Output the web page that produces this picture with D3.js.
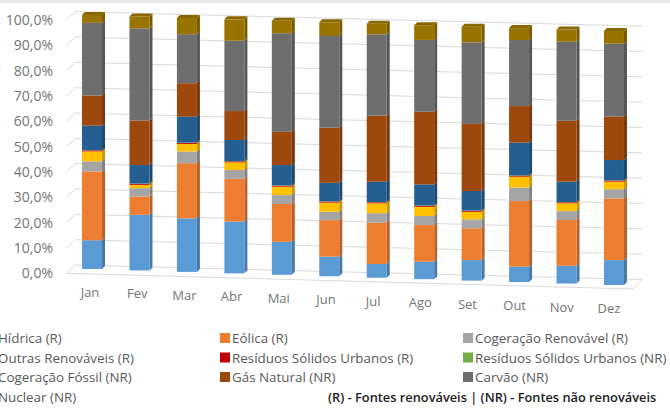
<!DOCTYPE html>
<html>
<head>
<meta charset="utf-8">
<script src="https://cdn.jsdelivr.net/npm/d3@7"></script>
<style>
  html, body { margin: 0; padding: 0; background: #fff; }
  svg { display: block; }
  text { font-family: "Open Sans", Lato, sans-serif; }
</style>
</head>
<body>
<svg id="chart" width="670" height="408"></svg>
<script>
// Months (Portuguese abbreviations)
const months = ["Jan","Fev","Mar","Abr","Mai","Jun","Jul","Ago","Set","Out","Nov","Dez"];

// Series names, stacked bottom to top
const seriesNames = [
  "Hídrica (R)", "Eólica (R)", "Cogeração Renovável (R)", "Outras Renováveis (R)",
  "Resíduos Sólidos Urbanos (R)", "Resíduos Sólidos Urbanos (NR)",
  "Cogeração Fóssil (NR)", "Gás Natural (NR)", "Carvão (NR)", "Nuclear (NR)"
];
const seriesColors = ["#5B9BD5","#ED7D31","#A5A5A5","#FFC000","#C00000","#70AD47",
                      "#255E91","#9E480E","#6E6E6E","#997300"];

// Monthly share of electricity production (%)
const hidrica    = [11.3, 21.9, 21.1, 20.4, 13.0,  7.7,  5.4,  6.9,  8.1,  6.1,  7.0,  9.8];
const eolica     = [27.1,  7.2, 21.7, 16.8, 14.9, 14.4, 16.3, 14.4, 12.5, 25.8, 18.0, 24.3];
const cogRenov   = [ 4.0,  3.3,  4.6,  3.5,  3.5,  3.3,  3.7,  3.6,  3.5,  5.3,  3.5,  3.6];
const outrasRen  = [ 3.9,  1.3,  3.0,  3.0,  3.3,  3.6,  3.9,  3.6,  3.0,  4.3,  3.1,  3.0];
const rsuR       = [ 0.4,  0.4,  0.4,  0.4,  0.4,  0.4,  0.4,  0.4,  0.4,  0.4,  0.4,  0.4];
const rsuNR      = [ 0.1,  0.1,  0.1,  0.1,  0.1,  0.1,  0.1,  0.1,  0.1,  0.1,  0.1,  0.1];
const cogFossil  = [ 9.6,  7.3, 10.2,  8.3,  8.0,  7.3,  8.0,  8.3,  7.7, 12.9,  8.0,  8.0];
const gasNatural = [11.9, 17.5, 13.2, 11.4, 13.1, 21.7, 26.0, 28.6, 26.4, 14.4, 24.0, 17.1];
const carvao     = [28.6, 36.3, 19.3, 27.7, 38.8, 36.1, 32.0, 28.3, 32.1, 26.0, 31.1, 28.7];
const nuclear    = [ 3.1,  4.7,  6.4,  8.4,  4.9,  5.4,  4.2,  5.8,  6.2,  4.7,  4.8,  5.0];

const yTicks = [0,10,20,30,40,50,60,70,80,90,100];

const seriesValues = [hidrica, eolica, cogRenov, outrasRen, rsuR, rsuNR,
                      cogFossil, gasNatural, carvao, nuclear];

// Table for d3.stack
const table = months.map((m, i) => {
  const row = { month: m };
  seriesNames.forEach((s, k) => { row[s] = seriesValues[k][i]; });
  return row;
});
const stacked = d3.stack().keys(seriesNames)(table);

const svg = d3.select("#chart");

// Thin grey band along the top edge
svg.append("rect").attr("x", 0).attr("y", 0).attr("width", 670).attr("height", 3).attr("fill", "#e9e9e9");

// ---- Geometry of the pseudo-3D plot ----
const x = d3.scaleBand().domain(months).range([68.3, 637.7]).padding(0);
const idx = d3.scaleLinear().domain([0, 11]);
const barBase = idx.copy().range([269, 285]);          // bottom of each bar (perspective tilt)
const barH = d3.scaleLinear().domain([0, 100]).range([0, 254]);
const wall = d3.scaleLinear().domain([0, 100]).range([265, 11.7]); // back wall, left edge
const wallLeft = 75, wallRight = 642, wallTilt = 14.5;
const sideX = 8.3, sideY = 8.3;                           // left wall depth
const barW = 20, depth = 3;

// Gridlines on the back and left walls
const grid = svg.append("g").attr("fill", "none").attr("stroke", "#d9d9d9").attr("stroke-width", 1);
yTicks.forEach(v => {
  const y0 = wall(v);
  grid.append("path")
    .attr("d", `M${wallLeft - sideX},${y0 + sideY} L${wallLeft},${y0} L${wallRight},${y0 + wallTilt}`);
});
// Floor front and right edges
grid.append("path")
  .attr("d", `M${wallLeft - sideX},${wall(0) + sideY} L${wallRight - 9},${wall(0) + wallTilt + 9.5} L${wallRight},${wall(0) + wallTilt}`);

// Y axis labels
const ptLocale = d3.formatLocale({ decimal: ",", thousands: ".", grouping: [3], currency: ["€", ""] });
const fmt = ptLocale.format(".1f");
const yLabel = wall.copy().range([wall(0) + sideY, wall(100) + sideY]);
const yAxis = d3.axisLeft(yLabel).tickValues(yTicks).tickSize(0).tickPadding(0)
  .tickFormat(d => fmt(d) + "%");
svg.append("g").attr("transform", "translate(53,0)").call(yAxis)
  .call(g => g.select(".domain").remove())
  .call(g => g.selectAll("text").attr("fill", "#757575").style("font-size", "14px")
    .style("font-family", "'Open Sans', Lato, sans-serif"));

// Bars: front face, right side face and top face for each segment
const barsG = svg.append("g");
stacked.forEach((layer, k) => {
  const col = d3.color(seriesColors[k]);
  const side = col.darker(0.7).formatHex();
  const top = col.darker(0.3).formatHex();
  layer.forEach((seg, i) => {
    const cx = x(months[i]) + x.bandwidth() / 2;
    const b = barBase(i);
    const y0 = b - barH(seg[0]);
    const y1 = b - barH(seg[1]);
    if (y0 - y1 <= 0) return;
    const l = cx - barW / 2, r = cx + barW / 2;
    barsG.append("path")
      .attr("d", `M${r},${y1} L${r + depth},${y1 - depth} L${r + depth},${y0 - depth} L${r},${y0} Z`)
      .attr("fill", side);
    barsG.append("rect")
      .attr("x", l).attr("y", y1).attr("width", barW).attr("height", y0 - y1)
      .attr("fill", col.formatHex());
    if (k === stacked.length - 1) {
      barsG.append("path")
        .attr("d", `M${l},${y1} L${l + depth},${y1 - depth} L${r + depth},${y1 - depth} L${r},${y1} Z`)
        .attr("fill", top);
    }
  });
});

// Month labels along the tilted floor edge
const labX = idx.copy().range([90, 609]);
const labY = idx.copy().range([297, 313]);
svg.append("g").selectAll("text").data(months).join("text")
  .attr("x", (d, i) => labX(i)).attr("y", (d, i) => labY(i))
  .attr("text-anchor", "middle").attr("fill", "#757575").style("font-size", "13px")
  .text(d => d);

// Legend
const legendCols = [-14, 220, 463];
const legendRows = [343, 362.5, 382, 401.5];
const legend = svg.append("g");
seriesNames.forEach((s, k) => {
  const cx = legendCols[k % 3], ry = legendRows[Math.floor(k / 3)];
  legend.append("rect").attr("x", cx).attr("y", ry - 10).attr("width", 10).attr("height", 10)
    .attr("fill", seriesColors[k]);
  legend.append("text").attr("x", cx + 12).attr("y", ry)
    .attr("fill", "#595959").style("font-size", "13.4px").text(s);
});

// Footnote
svg.append("text").attr("x", 328).attr("y", 402)
  .attr("fill", "#1a1a1a").style("font-size", "12.8px").style("font-weight", "600")
  .text("(R) - Fontes renováveis | (NR) - Fontes não renováveis");
</script>
</body>
</html>
